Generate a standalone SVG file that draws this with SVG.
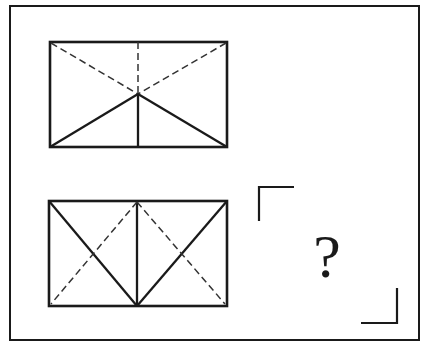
<svg xmlns="http://www.w3.org/2000/svg" width="429" height="342" viewBox="0 0 429 342">
<style>
.frame{fill:none;stroke:#1a1a1a;stroke-width:2}
.box{fill:none;stroke:#1a1a1a;stroke-width:2.6}
.solid{fill:none;stroke:#1a1a1a;stroke-width:2.3}
.dash{fill:none;stroke:#333;stroke-width:1.5;stroke-dasharray:7 4}
.br{fill:none;stroke:#1a1a1a;stroke-width:2.2}
</style>
<rect width="429" height="342" fill="#fff"/>
<rect id="frame" class="frame" x="10" y="6" width="409" height="334"/>
<g id="fig1">
<rect class="box" x="50" y="42" width="177" height="105"/>
<line class="dash" x1="51" y1="43" x2="138" y2="94"/>
<line class="dash" x1="226" y1="43" x2="138" y2="94"/>
<line class="dash" x1="138" y1="42" x2="138" y2="94"/>
<line class="solid" x1="50" y1="147" x2="138" y2="94"/>
<line class="solid" x1="227" y1="147" x2="138" y2="94"/>
<line class="solid" x1="138" y1="94" x2="138" y2="147"/>
</g>
<g id="fig2">
<rect class="box" x="49" y="201" width="178" height="105"/>
<line class="solid" x1="137" y1="201" x2="137" y2="306"/>
<line class="solid" x1="49" y1="201" x2="137" y2="306"/>
<line class="solid" x1="227" y1="201" x2="137" y2="306"/>
<line class="dash" x1="137" y1="202" x2="51" y2="304"/>
<line class="dash" x1="137" y1="202" x2="225" y2="304"/>
</g>
<g id="answer">
<path class="br" d="M259,221 V187 H294"/>
<path class="br" d="M361,323 H397 V288"/>
<text x="327" y="277" text-anchor="middle" font-family="Liberation Serif, serif" font-size="62" fill="#1a1a1a">?</text>
</g>
</svg>
